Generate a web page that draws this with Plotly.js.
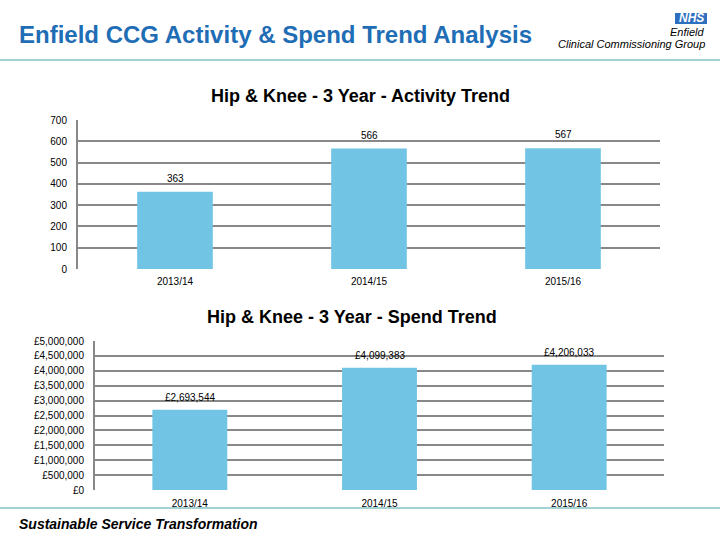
<!DOCTYPE html>
<html>
<head>
<meta charset="utf-8">
<script src="https://cdn.plot.ly/plotly-3.0.1.min.js"></script>
<style>html,body{margin:0;padding:0;background:#fff;}#chart{width:720px;height:540px;}</style>
</head>
<body>
<div id="chart"></div>
<script>
const categories = ["2013/14", "2014/15", "2015/16"];
const activityValues = [363, 566, 567];
const spendValues = [2693544, 4099383, 4206033];
const activityTicks = [0, 100, 200, 300, 400, 500, 600, 700];
const spendTicks = [0, 500000, 1000000, 1500000, 2000000, 2500000, 3000000, 3500000, 4000000, 4500000, 5000000];

const gbp = v => "£" + v.toLocaleString("en-GB");

const FONT = "Liberation Sans, Arial, sans-serif";
const BAR = "#72c4e4";
const GRID = "#888888";

const traces = [
  {type: "bar", x: categories, y: activityValues, xaxis: "x", yaxis: "y",
   marker: {color: BAR}, width: 0.39, hoverinfo: "none"},
  {type: "bar", x: categories, y: spendValues, xaxis: "x2", yaxis: "y2",
   marker: {color: BAR}, width: 0.395, hoverinfo: "none"}
];

const annotations = [];
categories.forEach((c, i) => {
  annotations.push({xref: "x", yref: "y", x: c, y: activityValues[i], text: String(activityValues[i]),
    showarrow: false, yanchor: "bottom", yshift: 6, font: {family: FONT, size: 10, color: "#000"}});
  annotations.push({xref: "x2", yref: "y2", x: c, y: spendValues[i], text: gbp(spendValues[i]),
    showarrow: false, yanchor: "bottom", yshift: 5, font: {family: FONT, size: 10, color: "#000"}});
});

annotations.push(
  {xref: "paper", yref: "paper", x: 17/720, y: 1 - 34/540, xanchor: "left", yanchor: "middle",
   text: "<b>Enfield CCG Activity &amp; Spend Trend Analysis</b>", showarrow: false,
   font: {family: FONT, size: 24, color: "#1f6db5"}},
  {xref: "paper", yref: "paper", x: 360/720, y: 1 - 96/540, xanchor: "center", yanchor: "middle",
   text: "<b>Hip &amp; Knee - 3 Year - Activity Trend</b>", showarrow: false,
   font: {family: FONT, size: 18, color: "#000"}},
  {xref: "paper", yref: "paper", x: 352/720, y: 1 - 317/540, xanchor: "center", yanchor: "middle",
   text: "<b>Hip &amp; Knee - 3 Year - Spend Trend</b>", showarrow: false,
   font: {family: FONT, size: 18, color: "#000"}},
  {xref: "paper", yref: "paper", x: 17/720, y: 1 - 524/540, xanchor: "left", yanchor: "middle",
   text: "<b><i>Sustainable Service Transformation</i></b>", showarrow: false,
   font: {family: FONT, size: 14, color: "#000"}},
  {xref: "paper", yref: "paper", x: 691/720, y: 1 - 18.5/540, xanchor: "center", yanchor: "middle",
   text: "<b><i>NHS</i></b>", showarrow: false,
   font: {family: FONT, size: 12, color: "#fff"}},
  {xref: "paper", yref: "paper", x: 707/720, y: 1 - 32/540, xanchor: "right", yanchor: "middle",
   text: "<i>Enfield</i>", showarrow: false,
   font: {family: FONT, size: 11, color: "#000"}},
  {xref: "paper", yref: "paper", x: 707/720, y: 1 - 44.5/540, xanchor: "right", yanchor: "middle",
   text: "<i>Clinical Commissioning Group</i>", showarrow: false,
   font: {family: FONT, size: 11, color: "#000"}}
);

const shapes = [
  {type: "line", xref: "paper", yref: "paper", x0: 0, x1: 1, y0: 1 - 60/540, y1: 1 - 60/540,
   line: {color: "#86c3c6", width: 1.5}},
  {type: "line", xref: "paper", yref: "paper", x0: 0, x1: 1, y0: 1 - 508/540, y1: 1 - 508/540,
   line: {color: "#86c3c6", width: 1.5}},
  {type: "rect", xref: "paper", yref: "paper", x0: 675/720, x1: 707/720, y0: 1 - 24/540, y1: 1 - 13/540,
   fillcolor: "#2f6fbf", line: {width: 0}}
];

const axisCommon = {
  showgrid: true, gridcolor: GRID, gridwidth: 2,
  showline: true, linecolor: GRID, linewidth: 2,
  zeroline: false, ticks: "", fixedrange: true
};

const layout = {
  width: 720, height: 540,
  margin: {l: 0, r: 0, t: 0, b: 0},
  paper_bgcolor: "#fff", plot_bgcolor: "#fff",
  showlegend: false, bargap: 0.6,
  xaxis: {domain: [78/720, 660/720], anchor: "y", showgrid: false, showline: false, zeroline: false,
          ticks: "", tickfont: {family: FONT, size: 10, color: "#000"}, ticklabelstandoff: 5},
  yaxis: Object.assign({}, axisCommon, {domain: [1 - 269/540, 1 - 120/540], anchor: "x",
          range: [0, 700], tickvals: activityTicks, ticktext: activityTicks.map(String),
          tickfont: {family: FONT, size: 10, color: "#000"}, ticklabelstandoff: 7}),
  xaxis2: {domain: [95/720, 664/720], anchor: "y2", showgrid: false, showline: false, zeroline: false,
          ticks: "", tickfont: {family: FONT, size: 10, color: "#000"}, ticklabelstandoff: 6},
  yaxis2: Object.assign({}, axisCommon, {domain: [1 - 490/540, 1 - 341/540], anchor: "x2",
          range: [0, 5000000], tickvals: spendTicks, ticktext: spendTicks.map(gbp),
          tickfont: {family: FONT, size: 10, color: "#000"}, ticklabelstandoff: 7}),
  annotations: annotations,
  shapes: shapes
};

Plotly.newPlot("chart", traces, layout, {displayModeBar: false, staticPlot: true});
</script>
</body>
</html>
